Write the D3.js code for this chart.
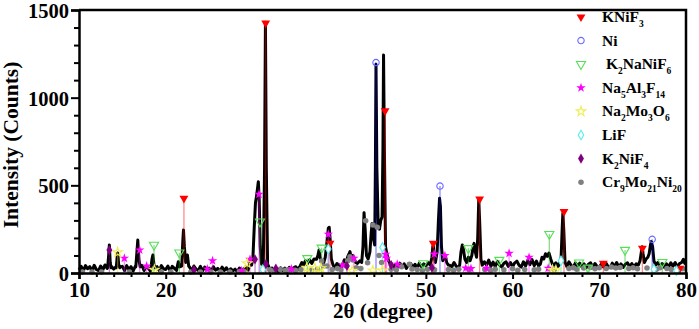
<!DOCTYPE html>
<html>
<head>
<meta charset="utf-8">
<script src="https://cdn.jsdelivr.net/npm/d3@7"></script>
<style>
  html, body { margin: 0; padding: 0; background: #fff; }
  svg { display: block; }
  text { font-family: 'Liberation Serif', 'Times New Roman', serif; font-weight: bold; fill: #000; }
</style>
</head>
<body>
<div id="chart"></div>
<script>
// XRD pattern: noisy baseline sampled every 0.25 deg from 10 to 80
const baselineStart = 10;
const baselineStep = 0.25;
const baselineCounts = [
  18,38,12,42,24,36,10,44,20,14,40,18,46,26,12,38,22,36,10,34,
  38,14,42,20,36,12,40,24,16,44,14,38,26,10,40,20,36,14,42,24,
  20,40,12,38,26,14,42,28,12,38,18,36,10,40,22,14,38,12,34,18,
  28,10,36,16,26,8,34,14,30,8,24,12,22,8,28,14,24,34,16,36,
  26,40,16,36,22,34,14,30,10,28,8,26,8,30,14,28,10,32,16,30,
  36,18,44,24,48,30,54,34,24,50,32,56,36,26,52,34,26,48,30,54,
  46,28,52,34,58,38,30,54,36,50,32,56,38,30,52,36,54,38,32,50,
  52,32,60,38,54,28,50,36,56,32,52,26,48,54,32,50,28,56,36,52,
  40,60,34,66,44,36,62,40,58,32,68,44,36,60,38,32,58,36,64,44,
  34,60,40,68,36,58,32,64,44,74,38,62,36,66,46,34,56,64,38,60,
  36,58,68,44,34,64,40,72,48,76,42,68,40,62,38,60,36,56,66,44,
  58,38,62,34,56,36,64,44,32,58,38,56,34,52,30,50,58,34,54,38,
  32,52,34,58,38,30,56,36,60,34,52,32,50,58,36,54,34,52,60,38,
  54,36,58,38,62,44,34,60,38,54,32,52,36,58,38,60,34,54,64,66,70
];

// XRD pattern: peak regions [2theta, counts]
const peakGroups = [
  [[13.3,30],[13.42,100],[13.5,160],[13.6,60],[13.7,30]],
  [[14.3,30],[14.4,90],[14.47,114],[14.57,50],[14.7,30]],
  [[16.55,35],[16.68,120],[16.78,188],[16.9,80],[17.05,35]],
  [[18.3,30],[18.42,80],[18.52,103],[18.65,45],[18.8,30]],
  [[21.3,30],[21.45,64],[21.6,35],[21.85,40],[21.97,180],[22.05,245],[22.15,150],[22.3,60],[22.5,103],[22.65,40],[22.8,30]],
  [[29.6,30],[29.75,70],[29.9,45],[30.05,80],[30.2,250],[30.35,400],[30.45,430],[30.58,480],[30.68,521],[30.78,420],[30.9,150],[31.05,50],[31.25,50],[31.4,600],[31.5,1430],[31.6,600],[31.75,50],[31.9,35]],
  [[35.5,40],[35.7,60],[35.9,45],[36.1,70],[36.3,50],[36.6,75],[36.85,55],[37.1,80],[37.4,78],[37.55,100],[37.68,131],[37.8,90],[38.0,60],[38.2,55],[38.4,90],[38.6,180],[38.75,255],[38.85,261],[38.95,200],[39.1,80],[39.3,45]],
  [[40.4,50],[40.6,75],[40.8,60],[41.0,95],[41.15,110],[41.25,122],[41.4,80],[41.55,100],[41.7,90],[41.9,60],[42.1,55],[42.4,70],[42.6,60],[42.75,150],[42.87,344],[43.0,250],[43.15,100],[43.35,80],[43.55,120],[43.7,230],[43.8,283],[43.95,200],[44.1,160],[44.18,600],[44.25,1190],[44.35,600],[44.5,280],[44.65,250],[44.8,300],[44.95,320],[45.05,700],[45.12,1243],[45.22,700],[45.35,150],[45.5,110],[45.7,70],[45.9,50]],
  [[50.5,45],[50.7,90],[50.8,150],[50.86,160],[50.95,90],[51.1,60],[51.3,120],[51.45,300],[51.58,426],[51.68,380],[51.8,150],[51.95,70],[52.1,80],[52.25,100],[52.4,60],[52.6,45]],
  [[53.9,45],[54.05,120],[54.2,160],[54.35,130],[54.5,80],[54.7,60],[54.9,90],[55.1,70],[55.3,100],[55.45,150],[55.56,169],[55.7,120],[55.85,90],[55.98,200],[56.1,416],[56.2,300],[56.35,80],[56.5,45]],
  [[63.2,50],[63.4,90],[63.6,80],[63.8,110],[64.0,95],[64.2,114],[64.4,80],[64.6,50]],
  [[65.4,50],[65.6,90],[65.72,250],[65.8,340],[65.9,250],[66.05,60],[66.2,45]],
  [[74.5,45],[74.7,70],[74.85,120],[74.95,150],[75.05,110],[75.2,60],[75.4,80],[75.6,90],[75.75,110],[75.9,160],[76.0,179],[76.15,150],[76.3,70],[76.5,45]],
  [[79.5,60],[79.7,78],[79.85,55],[80,65]]
];

// reference phase positions [2theta, counts]
const kniF3 = [[22.1,426],[31.53,1425],[38.95,169],[45.3,925],[50.86,169],[56.2,422],[65.93,350],[70.47,55],[74.97,141],[79.3,27]];
const ni = [[44.25,1200],[51.63,496],[76.1,192]];
const k2NaNiF6 = [[18.65,160],[21.57,116],[30.87,293],[36.33,84],[37.98,144],[49.7,55],[54.9,141],[58.47,74],[64.24,222],[67.67,59],[68.7,30],[72.97,131],[77.27,62]];
const na5Al3F14 = [[15.23,84],[17.0,131],[17.8,40],[24.8,23],[25.4,70],[28.76,13],[29.72,78],[30.76,449],[34.5,23],[38.75,221],[40.4,46],[41.7,84],[45.36,107],[45.47,84],[46.7,50],[50.97,108],[52.2,99],[54.6,28],[55.2,25],[57.0,27],[59.6,112],[61.9,89],[64.1,27]];
const na2Mo3O6 = [[14.46,118],[18.7,18],[29.4,55],[36.26,30],[37.2,28],[37.9,27],[41.5,12],[43.9,14],[45.0,14],[64.6,17],[65.0,15]];
const liF = [[31.2,20],[38.75,137],[45.0,146],[65.58,70],[76.3,21],[78.9,13]];
const k2NiF4 = [[13.5,131],[23.26,17],[30.3,78],[31.56,51],[32.7,25],[40.9,40],[46.0,45],[50.7,30]];
const cr9Mo21Ni20 = [
  [10.4,5],[11.5,5],[12.6,5],[15.8,5],[19.5,5],[20.6,5],[22.9,5],[24.0,5],[25.2,5],[26.3,5],[27.4,5],
  [28.5,8],[29.0,10],[32.0,18],[32.5,14],[33.2,20],[33.8,15],[34.2,18],[35.0,14],[35.6,20],[36.8,16],[37.5,22],
  [37.98,68],[38.2,40],[38.6,40],[39.2,20],[39.8,25],[40.2,18],[41.0,70],[41.25,93],[41.6,74],[42.0,30],[42.5,25],
  [43.06,298],[43.28,59],[43.9,274],[44.4,261],[44.6,100],[44.9,60],
  [46.0,22],[46.6,18],[47.2,36],[48.1,50],[48.4,23],[49.0,20],[49.6,16],[50.2,22],[51.0,18],[52.6,20],[53.2,15],[53.8,22],
  [55.0,18],[56.8,20],[57.5,14],[58.0,22],[59.0,18],[60.0,24],[60.6,16],[61.4,20],[62.5,18],[63.0,22],[64.8,20],
  [66.5,26],[67.0,30],[67.4,22],[68.2,28],[69.0,32],[69.5,24],[70.0,30],[70.8,26],[71.4,34],[71.9,28],[72.4,32],
  [73.4,26],[73.9,30],[74.4,24],[75.5,28],[76.6,22],[77.0,30],[77.8,26],[78.3,20],[79.0,18],[79.6,24]
];

const phases = [
  { label: 'KNiF_3',         data: kniF3,       symbol: d3.symbolTriangle, down: true,  size: 34, fill: '#ff0000', stroke: 'none',    stick: '#ff0000' },
  { label: 'Ni',             data: ni,          symbol: d3.symbolCircle,   down: false, size: 32, fill: 'none',    stroke: '#6a6aff', stick: '#0000ff' },
  { label: ' K_2NaNiF_6',    data: k2NaNiF6,    symbol: d3.symbolTriangle, down: true,  size: 36, fill: 'none',    stroke: '#55e055', stick: '#00b000' },
  { label: 'Na_5Al_3F_14',   data: na5Al3F14,   symbol: d3.symbolStar,     down: false, size: 28, fill: '#ff00ff', stroke: 'none',    stick: '#ff00ff' },
  { label: 'Na_2Mo_3O_6',    data: na2Mo3O6,    symbol: d3.symbolStar,     down: false, size: 28, fill: 'none',    stroke: '#eeee55', stick: '#e0e000' },
  { label: 'LiF',            data: liF,         symbol: d3.symbolDiamond,  down: false, size: 26, fill: '#ffffff', stroke: '#55eeee', stick: '#00dddd' },
  { label: 'K_2NiF_4',       data: k2NiF4,      symbol: d3.symbolDiamond,  down: false, size: 30, fill: '#800080', stroke: 'none',    stick: '#800080' },
  { label: 'Cr_9Mo_21Ni_20', data: cr9Mo21Ni20, symbol: d3.symbolCircle,   down: false, size: 24, fill: '#808080', stroke: 'none',    stick: null }
];

const xMajorTicks = [10, 20, 30, 40, 50, 60, 70, 80];
const xMinorTicks = [12, 14, 16, 18, 22, 24, 26, 28, 32, 34, 36, 38, 42, 44, 46, 48, 52, 54, 56, 58, 62, 64, 66, 68, 72, 74, 76, 78];
const yMajorTicks = [0, 500, 1000, 1500];
const yMinorTicks = [100, 200, 300, 400, 600, 700, 800, 900, 1100, 1200, 1300, 1400];

const W = 699, H = 329;
const margin = { top: 10, right: 13, bottom: 56, left: 79 };

const svg = d3.select('#chart').append('svg')
  .attr('width', W)
  .attr('height', H);

const x = d3.scaleLinear().domain([10, 80]).range([margin.left, W - margin.right]);
const y = d3.scaleLinear().domain([0, 1500]).range([H - margin.bottom, margin.top]);

// pattern = baseline outside peak regions + peak points
const spans = peakGroups.map(g => [g[0][0], g[g.length - 1][0]]);
const basePts = baselineCounts
  .map((c, i) => [baselineStart + i * baselineStep, c])
  .filter(p => !spans.some(s => p[0] >= s[0] && p[0] <= s[1]));
const pattern = basePts.concat(...peakGroups).sort((a, b) => a[0] - b[0]);

const line = d3.line().x(d => x(d[0])).y(d => y(d[1]));

svg.append('path')
  .datum(pattern)
  .attr('d', line)
  .attr('fill', 'none')
  .attr('stroke', '#000')
  .attr('stroke-width', 3)
  .attr('stroke-linejoin', 'round');

const symbolPath = (p) => d3.symbol().type(p.symbol).size(p.size)();

// sticks
phases.filter(p => p.stick).forEach(p => {
  svg.append('g').selectAll('line')
    .data(p.data)
    .enter().append('line')
    .attr('x1', d => x(d[0])).attr('x2', d => x(d[0]))
    .attr('y1', y(0)).attr('y2', d => y(d[1]))
    .attr('stroke', p.stick)
    .attr('stroke-opacity', 0.45)
    .attr('stroke-width', 1.3);
});

// markers (gray dots first)
[phases[7]].concat(phases.slice(0, 7)).forEach(p => {
  svg.append('g').selectAll('path')
    .data(p.data)
    .enter().append('path')
    .attr('d', symbolPath(p))
    .attr('transform', d => `translate(${x(d[0])},${y(d[1])})` + (p.down ? ' rotate(180)' : ''))
    .attr('fill', p.fill)
    .attr('stroke', p.stroke)
    .attr('stroke-width', 1.1);
});

// frame
svg.append('path')
  .attr('d', `M${x(10)},${y(1500)}H${x(80)}V${y(0)}`)
  .attr('fill', 'none')
  .attr('stroke', '#000')
  .attr('stroke-width', 2.5);

// x axis
const xAxisG = svg.append('g').attr('transform', `translate(0,${y(0)})`);
xAxisG.append('g')
  .call(d3.axisBottom(x).tickValues(xMinorTicks).tickSize(4).tickFormat(''))
  .call(g => g.select('.domain').remove());
xAxisG.append('g')
  .call(d3.axisBottom(x).tickValues(xMajorTicks).tickSize(6).tickPadding(3).tickFormat(d3.format('d')))
  .call(g => g.select('.domain').attr('stroke-width', 2.5));
xAxisG.selectAll('.tick line').attr('stroke-width', 2);
xAxisG.selectAll('.tick text')
  .style('font-family', "'Liberation Serif', serif")
  .style('font-weight', 'bold')
  .style('font-size', '21px');

// y axis
const yAxisG = svg.append('g').attr('transform', `translate(${x(10)},0)`);
yAxisG.append('g')
  .call(d3.axisLeft(y).tickValues(yMinorTicks).tickSize(5).tickFormat(''))
  .call(g => g.select('.domain').remove());
yAxisG.append('g')
  .call(d3.axisLeft(y).tickValues(yMajorTicks).tickSize(8).tickPadding(2).tickFormat(d3.format('d')))
  .call(g => g.select('.domain').attr('stroke-width', 2.5));
yAxisG.selectAll('.tick line').attr('stroke-width', 2);
yAxisG.selectAll('.tick text')
  .style('font-family', "'Liberation Serif', serif")
  .style('font-weight', 'bold')
  .style('font-size', '20.5px')
  .attr('dy', '0.36em');

// axis titles
svg.append('text')
  .attr('x', 383)
  .attr('y', 318)
  .attr('text-anchor', 'middle')
  .style('font-size', '21px')
  .text('2θ (degree)');

svg.append('text')
  .attr('transform', 'translate(18,145) rotate(-90)')
  .attr('text-anchor', 'middle')
  .style('font-size', '21.5px')
  .text('Intensity (Counts)');

// legend
const legend = svg.append('g');
phases.forEach((p, i) => {
  const ly = 17 + i * 23.6;
  legend.append('path')
    .attr('d', symbolPath(p))
    .attr('transform', `translate(581,${ly})` + (p.down ? ' rotate(180)' : ''))
    .attr('fill', p.fill)
    .attr('stroke', p.stroke)
    .attr('stroke-width', 1.1);

  const t = legend.append('text')
    .attr('x', 602)
    .attr('y', ly + 5)
    .style('font-size', '15.5px')
    .style('white-space', 'pre');
  const parts = p.label.split(/_(\d+)/);
  let sub = false;
  parts.forEach((s, k) => {
    if (!s) return;
    const isSub = k % 2 === 1;
    const ts = t.append('tspan').text(s);
    if (isSub) {
      ts.style('font-size', '9.5px').attr('dy', sub ? 0 : 5);
      sub = true;
    } else if (sub) {
      ts.attr('dy', -5);
      sub = false;
    }
  });
});
</script>
</body>
</html>
